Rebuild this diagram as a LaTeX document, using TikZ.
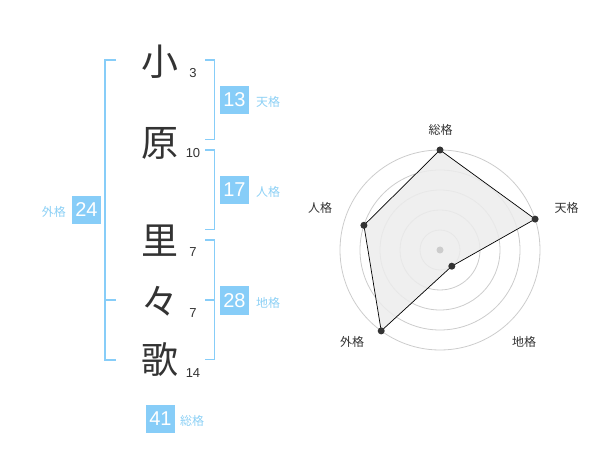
\documentclass[tikz,border=0pt]{standalone}
\usepackage{fontspec}
\setmainfont{Liberation Sans}
\newfontfamily\jp{Noto Sans CJK JP}
\definecolor{sky}{RGB}{135,205,248}
\definecolor{skytext}{RGB}{140,208,245}
\definecolor{ink}{RGB}{51,51,51}
\definecolor{ringc}{RGB}{204,204,204}
\definecolor{polyfill}{RGB}{236,236,236}
\tikzset{
  kanji/.style={font=\jp\fontsize{37}{37}\selectfont, text=ink, inner sep=0pt},
  strokes/.style={font=\fontsize{13}{13}\selectfont, text=ink, inner sep=0pt},
  numbox/.style={fill=sky, text=white, font=\fontsize{20}{20}\selectfont, minimum width=29pt, minimum height=28.5pt, inner sep=0pt},
  kaku/.style={font=\jp\fontsize{12}{12}\selectfont, text=skytext, inner sep=0pt},
  brk/.style={draw=sky, line width=1.6pt},
  ring/.style={draw=ringc, line width=0.8pt},
  radlabel/.style={font=\jp\fontsize{12}{12}\selectfont, text=ink, inner sep=0pt},
  dot/.style={circle, fill=ink, inner sep=0pt, minimum size=7pt},
}
\begin{document}
\begin{tikzpicture}[x=1pt, y=-1pt]
\useasboundingbox (0,0) rectangle (600,470);
% name characters
\node[kanji] (c1) at (160,62) {小};
\node[kanji] (c2) at (160,143) {原};
\node[kanji] (c3) at (160,241) {里};
\node[kanji] (c4) at (160,301) {々};
\node[kanji] (c5) at (160,360) {歌};
\node[strokes] (s1) at (193,73) {3};
\node[strokes] (s2) at (193,153) {10};
\node[strokes] (s3) at (193,252) {7};
\node[strokes] (s4) at (193,313) {7};
\node[strokes] (s5) at (193,373) {14};
% left bracket
\draw[brk] (116,60) -- (105,60) -- (105,360) -- (116,360);
\draw[brk] (105,300) -- (116,300);
% right brackets
\draw[brk] (205,60) -- (214.5,60) -- (214.5,139.5) -- (205,139.5);
\draw[brk] (205,150) -- (214.5,150) -- (214.5,229.5) -- (205,229.5);
\draw[brk] (205,240) -- (214.5,240) -- (214.5,359.5) -- (205,359.5);
\draw[brk] (205,300) -- (214.5,300);
% boxes
\node[numbox] (b13) at (234.5,100) {13};
\node[kaku, anchor=west] (k13) at (256,102) {天格};
\node[numbox] (b17) at (234.5,190) {17};
\node[kaku, anchor=west] (k17) at (256,192) {人格};
\node[numbox] (b28) at (234.5,300.5) {28};
\node[kaku, anchor=west] (k28) at (256,302.5) {地格};
\node[numbox] (b24) at (86.5,210) {24};
\node[kaku, anchor=east] (k24) at (66,212) {外格};
\node[numbox] (b41) at (160.5,419) {41};
\node[kaku, anchor=west] (k41) at (180,421) {総格};
% radar chart
\coordinate (ctr) at (440,250);
\foreach \r in {20,40,60,80,100} \draw[ring] (ctr) circle[radius=\r];
\coordinate (pso) at (440,150);
\coordinate (pte) at (535.1,219.1);
\coordinate (pch) at (451.8,266.2);
\coordinate (pga) at (381.2,330.9);
\coordinate (pji) at (363.9,225.3);
\draw[fill=polyfill, fill opacity=0.85, draw=black, line width=0.7pt] (pso) -- (pte) -- (pch) -- (pga) -- (pji) -- cycle;
\fill[ringc] (ctr) circle[radius=3.5];
\foreach \p in {pso,pte,pch,pga,pji} \node[dot] (d\p) at (\p) {};
\node[radlabel] (lso) at (440.5,130) {総格};
\node[radlabel] (lte) at (566.5,208) {天格};
\node[radlabel] (lji) at (320,208) {人格};
\node[radlabel] (lga) at (352,342) {外格};
\node[radlabel] (lch) at (524,342) {地格};
\end{tikzpicture}
\end{document}
